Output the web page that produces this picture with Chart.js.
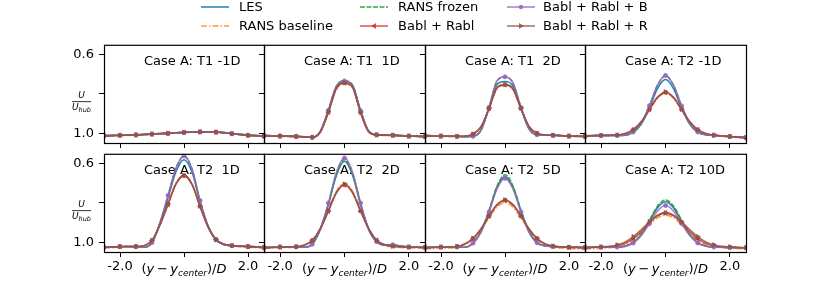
<!DOCTYPE html>
<html>
<head>
<meta charset="utf-8">
<script src="https://cdn.jsdelivr.net/npm/chart.js@4.4.0/dist/chart.umd.min.js"></script>
<style>
  html, body { margin: 0; padding: 0; background: #fff; }
  #fig { position: relative; width: 830px; height: 283px; overflow: hidden; font-family: 'DejaVu Sans', sans-serif; }
  #fig canvas { position: absolute; }
  .leg { position: absolute; height: 16px; font-size: 13px; line-height: 16px; white-space: nowrap; color: #000; }
  .leg svg { position: absolute; left: 0; top: 0; }
  .leg span { position: absolute; top: 0; }
</style>
</head>
<body>
<div id="fig"></div>
<script>
// ---------- data ----------
const xs = [-2.5, -2.25, -2, -1.75, -1.5, -1.25, -1, -0.75, -0.5, -0.25, 0, 0.25, 0.5, 0.75, 1, 1.25, 1.5, 1.75, 2, 2.25, 2.5];
const xTicks = [-2, 0, 2];
const xTickLabels = ['-2.0', '', '2.0'];
const yTicks = [0.6, 0.8, 1.0];
const yTickLabels = ['0.6', '', '1.0'];
const seriesNames = ['LES', 'RANS baseline', 'RANS frozen', 'Babl + Rabl', 'Babl + Rabl + B', 'Babl + Rabl + R'];
const panelTitles = ['Case A: T1 -1D', 'Case A: T1  1D', 'Case A: T1  2D', 'Case A: T2 -1D',
                     'Case A: T2  1D', 'Case A: T2  2D', 'Case A: T2  5D', 'Case A: T2 10D'];

// T1 -1D
const t1m1_les    = [1.012,1.011,1.010,1.009,1.008,1.006,1.004,1.002,1.000,0.998,0.996,0.994,0.993,0.993,0.994,0.997,1.002,1.006,1.010,1.012,1.013];
const t1m1_base   = [1.016,1.015,1.013,1.011,1.010,1.008,1.006,1.003,1.001,0.999,0.997,0.995,0.994,0.994,0.995,0.998,1.003,1.008,1.012,1.015,1.017];
const t1m1_frozen = [1.012,1.011,1.010,1.009,1.008,1.006,1.004,1.002,1.000,0.998,0.996,0.995,0.994,0.993,0.994,0.997,1.002,1.006,1.010,1.012,1.014];
const t1m1_rabl   = [1.014,1.013,1.011,1.010,1.009,1.007,1.005,1.003,1.001,0.998,0.996,0.994,0.993,0.993,0.995,0.998,1.003,1.007,1.011,1.013,1.015];
const t1m1_b      = [1.012,1.011,1.010,1.009,1.008,1.006,1.004,1.002,1.000,0.998,0.996,0.994,0.993,0.993,0.994,0.997,1.002,1.006,1.010,1.012,1.014];
const t1m1_r      = [1.014,1.013,1.011,1.010,1.009,1.007,1.005,1.003,1.001,0.999,0.996,0.995,0.994,0.994,0.995,0.998,1.003,1.007,1.011,1.013,1.015];

// T1 1D
const t1p1_les    = [1.012,1.013,1.014,1.015,1.016,1.018,1.021,0.992,0.886,0.763,0.735,0.757,0.888,0.990,1.008,1.009,1.010,1.012,1.014,1.015,1.017];
const t1p1_base   = [1.016,1.016,1.017,1.018,1.019,1.020,1.022,0.995,0.895,0.775,0.748,0.770,0.897,0.994,1.010,1.011,1.012,1.014,1.016,1.018,1.020];
const t1p1_frozen = [1.012,1.013,1.014,1.015,1.016,1.018,1.021,0.990,0.882,0.760,0.733,0.755,0.885,0.989,1.008,1.009,1.010,1.012,1.014,1.015,1.017];
const t1p1_rabl   = [1.013,1.014,1.015,1.016,1.017,1.019,1.021,0.994,0.893,0.772,0.745,0.767,0.895,0.993,1.009,1.010,1.011,1.013,1.015,1.016,1.018];
const t1p1_b      = [1.012,1.013,1.014,1.015,1.016,1.018,1.021,0.991,0.884,0.761,0.734,0.756,0.886,0.989,1.008,1.009,1.010,1.012,1.014,1.015,1.017];
const t1p1_r      = [1.013,1.014,1.015,1.016,1.017,1.019,1.021,0.993,0.891,0.770,0.743,0.765,0.893,0.992,1.009,1.010,1.011,1.013,1.015,1.016,1.018];

// T1 2D
const t1p2_les    = [1.012,1.013,1.014,1.015,1.016,1.018,1.016,0.984,0.873,0.752,0.737,0.760,0.875,0.977,1.008,1.009,1.010,1.012,1.014,1.015,1.016];
const t1p2_base   = [1.017,1.017,1.017,1.018,1.018,1.017,1.007,0.970,0.878,0.772,0.757,0.778,0.878,0.968,1.002,1.010,1.012,1.014,1.016,1.018,1.020];
const t1p2_frozen = [1.012,1.013,1.014,1.015,1.016,1.018,1.016,0.985,0.870,0.735,0.714,0.745,0.870,0.978,1.008,1.009,1.010,1.012,1.014,1.015,1.016];
const t1p2_rabl   = [1.014,1.014,1.015,1.016,1.016,1.015,1.005,0.968,0.875,0.770,0.754,0.775,0.875,0.966,1.001,1.009,1.011,1.013,1.015,1.016,1.017];
const t1p2_b      = [1.012,1.013,1.014,1.015,1.016,1.018,1.016,0.985,0.869,0.734,0.713,0.744,0.869,0.978,1.008,1.009,1.010,1.012,1.014,1.015,1.016];
const t1p2_r      = [1.014,1.014,1.015,1.016,1.016,1.015,1.005,0.967,0.873,0.768,0.752,0.773,0.873,0.965,1.001,1.009,1.011,1.013,1.015,1.016,1.017];

// T2 -1D
const t2m1_les    = [1.014,1.012,1.011,1.011,1.011,1.010,0.995,0.954,0.872,0.773,0.727,0.773,0.872,0.954,0.995,1.008,1.011,1.014,1.017,1.020,1.022];
const t2m1_base   = [1.017,1.015,1.013,1.012,1.011,1.005,0.984,0.943,0.882,0.822,0.795,0.822,0.882,0.943,0.984,1.004,1.012,1.016,1.019,1.023,1.026];
const t2m1_frozen = [1.014,1.012,1.011,1.011,1.011,1.010,0.994,0.950,0.862,0.757,0.708,0.757,0.862,0.950,0.994,1.008,1.011,1.014,1.017,1.020,1.022];
const t2m1_rabl   = [1.015,1.013,1.012,1.011,1.010,1.002,0.982,0.941,0.879,0.819,0.793,0.819,0.879,0.941,0.982,1.002,1.010,1.014,1.017,1.020,1.023];
const t2m1_b      = [1.014,1.012,1.011,1.011,1.011,1.010,0.994,0.949,0.860,0.755,0.706,0.755,0.861,0.949,0.994,1.008,1.011,1.014,1.017,1.020,1.022];
const t2m1_r      = [1.015,1.013,1.012,1.011,1.010,1.002,0.983,0.942,0.878,0.817,0.790,0.817,0.878,0.942,0.983,1.002,1.010,1.014,1.017,1.020,1.023];

// T2 1D
const t2p1_les    = [1.025,1.024,1.022,1.022,1.023,1.026,1.002,0.905,0.775,0.640,0.580,0.643,0.795,0.918,0.988,1.012,1.018,1.020,1.021,1.023,1.026];
const t2p1_base   = [1.030,1.028,1.026,1.025,1.025,1.020,0.990,0.910,0.805,0.700,0.657,0.703,0.815,0.920,0.985,1.010,1.020,1.024,1.026,1.028,1.031];
const t2p1_frozen = [1.025,1.024,1.022,1.022,1.023,1.026,1.003,0.902,0.765,0.624,0.562,0.628,0.790,0.917,0.989,1.012,1.018,1.020,1.021,1.023,1.026];
const t2p1_rabl   = [1.026,1.025,1.023,1.022,1.022,1.018,0.992,0.912,0.808,0.704,0.661,0.707,0.818,0.922,0.987,1.010,1.018,1.021,1.023,1.025,1.027];
const t2p1_b      = [1.025,1.024,1.022,1.022,1.023,1.026,1.002,0.900,0.762,0.622,0.561,0.626,0.788,0.915,0.988,1.012,1.018,1.020,1.021,1.023,1.026];
const t2p1_r      = [1.026,1.025,1.023,1.022,1.022,1.018,0.991,0.910,0.806,0.702,0.660,0.705,0.816,0.921,0.986,1.010,1.018,1.021,1.023,1.025,1.027];

// T2 2D
const t2p2_les    = [1.027,1.026,1.024,1.024,1.024,1.026,1.010,0.935,0.809,0.659,0.588,0.659,0.809,0.935,0.998,1.015,1.014,1.020,1.024,1.026,1.027];
const t2p2_base   = [1.031,1.030,1.028,1.027,1.026,1.018,0.990,0.929,0.835,0.740,0.698,0.740,0.835,0.929,0.990,1.016,1.024,1.027,1.029,1.030,1.031];
const t2p2_frozen = [1.027,1.026,1.024,1.024,1.024,1.026,1.010,0.934,0.805,0.652,0.580,0.652,0.805,0.934,0.998,1.015,1.014,1.020,1.024,1.026,1.027];
const t2p2_rabl   = [1.028,1.027,1.025,1.024,1.023,1.015,0.990,0.932,0.842,0.749,0.709,0.749,0.842,0.932,0.990,1.013,1.020,1.023,1.025,1.026,1.027];
const t2p2_b      = [1.027,1.026,1.024,1.024,1.024,1.026,1.010,0.932,0.801,0.644,0.571,0.644,0.801,0.932,0.997,1.015,1.013,1.020,1.024,1.026,1.027];
const t2p2_r      = [1.028,1.027,1.025,1.024,1.023,1.015,0.993,0.930,0.840,0.746,0.705,0.746,0.840,0.930,0.993,1.013,1.020,1.023,1.025,1.026,1.027];

// T2 5D
const t2p5_les    = [1.027,1.026,1.025,1.025,1.025,1.026,1.004,0.947,0.842,0.721,0.665,0.721,0.842,0.947,1.003,1.018,1.022,1.024,1.025,1.026,1.027];
const t2p5_base   = [1.034,1.033,1.031,1.030,1.027,1.012,0.984,0.938,0.876,0.821,0.798,0.821,0.876,0.938,0.984,1.012,1.026,1.030,1.032,1.034,1.035];
const t2p5_frozen = [1.027,1.026,1.025,1.025,1.025,1.026,1.003,0.945,0.838,0.714,0.657,0.714,0.838,0.945,1.002,1.018,1.022,1.024,1.025,1.026,1.027];
const t2p5_rabl   = [1.028,1.027,1.025,1.024,1.022,1.010,0.983,0.934,0.868,0.811,0.787,0.811,0.868,0.934,0.983,1.010,1.021,1.024,1.026,1.027,1.028];
const t2p5_b      = [1.027,1.026,1.025,1.025,1.025,1.026,1.005,0.949,0.847,0.729,0.675,0.729,0.847,0.949,1.003,1.018,1.022,1.024,1.025,1.026,1.027];
const t2p5_r      = [1.028,1.027,1.025,1.024,1.022,1.008,0.980,0.931,0.866,0.809,0.785,0.809,0.866,0.931,0.980,1.008,1.020,1.024,1.026,1.027,1.028];

// T2 10D
const t2p10_les    = [1.027,1.026,1.025,1.025,1.025,1.020,1.002,0.961,0.894,0.825,0.794,0.825,0.894,0.961,1.002,1.019,1.025,1.026,1.027,1.028,1.029];
const t2p10_base   = [1.034,1.033,1.032,1.028,1.023,1.011,0.988,0.953,0.911,0.876,0.862,0.876,0.911,0.953,0.988,1.011,1.023,1.028,1.031,1.033,1.035];
const t2p10_frozen = [1.027,1.026,1.025,1.025,1.025,1.020,1.001,0.959,0.889,0.817,0.785,0.817,0.889,0.959,1.001,1.019,1.025,1.026,1.027,1.028,1.029];
const t2p10_rabl   = [1.028,1.027,1.025,1.024,1.018,1.006,0.982,0.946,0.902,0.866,0.851,0.866,0.902,0.946,0.982,1.006,1.018,1.024,1.026,1.027,1.028];
const t2p10_b      = [1.027,1.026,1.025,1.025,1.025,1.020,1.004,0.966,0.905,0.841,0.813,0.841,0.905,0.966,1.004,1.020,1.025,1.026,1.027,1.028,1.029];
const t2p10_r      = [1.028,1.026,1.024,1.021,1.014,0.999,0.972,0.936,0.896,0.863,0.851,0.863,0.896,0.936,0.972,0.999,1.014,1.021,1.024,1.026,1.028];

const panelSeries = [
  [t1m1_les, t1m1_base, t1m1_frozen, t1m1_rabl, t1m1_b, t1m1_r],
  [t1p1_les, t1p1_base, t1p1_frozen, t1p1_rabl, t1p1_b, t1p1_r],
  [t1p2_les, t1p2_base, t1p2_frozen, t1p2_rabl, t1p2_b, t1p2_r],
  [t2m1_les, t2m1_base, t2m1_frozen, t2m1_rabl, t2m1_b, t2m1_r],
  [t2p1_les, t2p1_base, t2p1_frozen, t2p1_rabl, t2p1_b, t2p1_r],
  [t2p2_les, t2p2_base, t2p2_frozen, t2p2_rabl, t2p2_b, t2p2_r],
  [t2p5_les, t2p5_base, t2p5_frozen, t2p5_rabl, t2p5_b, t2p5_r],
  [t2p10_les, t2p10_base, t2p10_frozen, t2p10_rabl, t2p10_b, t2p10_r]
];

// ---------- styles ----------
const colors = ['rgba(31,119,180,0.95)', 'rgba(255,127,14,0.8)', 'rgba(44,160,44,0.95)',
                'rgba(214,39,40,0.8)', 'rgba(148,103,189,0.85)', 'rgba(140,86,75,0.85)'];
const dashes = [[], [6, 2, 1.5, 2], [5, 1.5], [], [], []];
const markers = [null, null, null, {style: 'triangle', rot: -90, r: 2.6}, {style: 'circle', rot: 0, r: 2}, {style: 'triangle', rot: 90, r: 2.6}];

const FONT = "'DejaVu Sans', sans-serif";
Chart.defaults.font.family = FONT;
Chart.defaults.color = '#000';

const colEdges = [104, 264, 425, 585, 746];
const rowEdges = [34, 143, 252];
const ML = 45, MR = 2, MT = 2, MB = 32;
const fig = document.getElementById('fig');

// ---------- panels ----------
function drawYLabel(ctx, cx, cy) {
  ctx.save();
  ctx.fillStyle = '#000';
  ctx.textAlign = 'center';
  ctx.textBaseline = 'middle';
  ctx.font = 'italic 9px ' + FONT;
  ctx.fillText('U', cx, cy - 6.5);
  ctx.fillRect(cx - 9.5, cy - 0.5, 19, 0.8);
  const wU = ctx.measureText('U').width;
  ctx.font = 'italic 6.5px ' + FONT;
  const wS = ctx.measureText('hub').width;
  const x0 = cx - (wU + wS) / 2;
  ctx.textAlign = 'left';
  ctx.font = 'italic 9px ' + FONT;
  ctx.fillText('U', x0, cy + 6);
  ctx.font = 'italic 6.5px ' + FONT;
  ctx.fillText('hub', x0 + wU, cy + 8.5);
  ctx.restore();
}

function drawXLabel(ctx, cx, by) {
  const parts = [
    ['(', '13px ', 0], ['y', 'italic 13px ', 0], ['\u2009\u2212\u2009', '13px ', 0], ['y', 'italic 13px ', 0],
    ['center', 'italic 9px ', 3], [')/', '13px ', 0], ['D', 'italic 13px ', 0]
  ];
  ctx.save();
  ctx.fillStyle = '#000';
  ctx.textBaseline = 'alphabetic';
  ctx.textAlign = 'left';
  let total = 0;
  parts.forEach(p => { ctx.font = p[1] + FONT; total += ctx.measureText(p[0]).width; });
  let x = cx - total / 2;
  parts.forEach(p => {
    ctx.font = p[1] + FONT;
    ctx.fillText(p[0], x, by + p[2]);
    x += ctx.measureText(p[0]).width;
  });
  ctx.restore();
}

function makePanel(idx) {
  const col = idx % 4, row = Math.floor(idx / 4);
  const left = colEdges[col], right = colEdges[col + 1];
  const top = rowEdges[row], bottom = rowEdges[row + 1];
  const w = right - left + ML + MR, h = bottom - top + MT + MB;
  const cv = document.createElement('canvas');
  cv.width = w; cv.height = h;
  cv.style.left = (left - ML) + 'px';
  cv.style.top = (top - MT) + 'px';
  cv.style.width = w + 'px';
  cv.style.height = h + 'px';
  fig.appendChild(cv);

  const datasets = panelSeries[idx].map((vals, s) => ({
    label: seriesNames[s],
    data: xs.map((x, k) => ({x: x, y: vals[k]})),
    borderColor: colors[s],
    backgroundColor: colors[s],
    borderWidth: 1.6,
    borderDash: dashes[s],
    pointStyle: markers[s] ? markers[s].style : 'circle',
    rotation: markers[s] ? markers[s].rot : 0,
    pointRadius: c => (markers[s] && c.dataIndex % 2 === 0) ? markers[s].r : 0,
    pointBorderWidth: 1,
    cubicInterpolationMode: 'monotone',
    order: 5 - s
  }));

  const framePlugin = {
    id: 'frame' + idx,
    beforeDatasetsDraw(chart) {
      const a = chart.chartArea, ctx = chart.ctx;
      ctx.save();
      ctx.fillStyle = '#000';
      ctx.font = '13px ' + FONT;
      ctx.textAlign = 'left';
      ctx.textBaseline = 'middle';
      ctx.fillText(panelTitles[idx], a.left + 40, a.top + 17);
      ctx.restore();
    },
    afterDraw(chart) {
      const a = chart.chartArea, ctx = chart.ctx;
      ctx.save();
      ctx.strokeStyle = '#000';
      ctx.lineWidth = 1.2;
      ctx.strokeRect(a.left + 0.5, a.top + 0.5, a.right - a.left, a.bottom - a.top);
      ctx.restore();
      if (col === 0) drawYLabel(ctx, 22.5, a.top + 57);
      if (row === 1) drawXLabel(ctx, (a.left + a.right) / 2, a.bottom + 20.5);
    }
  };

  new Chart(cv, {
    type: 'line',
    data: {datasets: datasets},
    options: {
      responsive: false,
      devicePixelRatio: 1,
      animation: false,
      events: [],
      layout: {autoPadding: false, padding: {top: MT, right: MR, left: 0, bottom: 0}},
      plugins: {legend: {display: false}, tooltip: {enabled: false}},
      scales: {
        x: {
          type: 'linear', min: -2.5, max: 2.5,
          afterBuildTicks: sc => { sc.ticks = xTicks.map(v => ({value: v})); },
          afterFit: sc => { sc.height = MB; },
          ticks: {
            callback: (v, i) => row === 1 ? xTickLabels[i] : '',
            font: {size: 13}, padding: 2, maxRotation: 0, autoSkip: false
          },
          grid: {display: true, drawOnChartArea: false, drawTicks: true, tickLength: 5, color: '#000', lineWidth: 1},
          border: {display: false}
        },
        y: {
          type: 'linear', reverse: true, min: 0.55, max: 1.05,
          afterBuildTicks: sc => { sc.ticks = yTicks.map(v => ({value: v})); },
          afterFit: sc => { sc.width = ML; },
          ticks: {
            callback: (v, i) => col === 0 ? yTickLabels[i] : '',
            font: {size: 13}, padding: 5, autoSkip: false
          },
          grid: {display: true, drawOnChartArea: false, drawTicks: true, tickLength: 5, color: '#000', lineWidth: 1},
          border: {display: false}
        }
      }
    },
    plugins: [framePlugin]
  });
}

for (let i = 0; i < 8; i++) makePanel(i);

// ---------- legend ----------
const legendPos = [
  {line: 201, text: 239, y: 7}, {line: 201, text: 239, y: 25.5},
  {line: 360, text: 398, y: 7}, {line: 360, text: 398, y: 25.5},
  {line: 507, text: 543, y: 7}, {line: 507, text: 543, y: 25.5}
];
seriesNames.forEach((name, s) => {
  const p = legendPos[s];
  const d = document.createElement('div');
  d.className = 'leg';
  d.style.left = p.line + 'px';
  d.style.top = (p.y - 8) + 'px';
  const c = colors[s];
  const dash = dashes[s].length ? ` stroke-dasharray="${dashes[s].join(' ')}"` : '';
  let mk = '';
  if (s === 3) mk = `<polygon points="11,8 16,5 16,11" fill="${c}"/>`;
  if (s === 4) mk = `<circle cx="14" cy="8" r="2.2" fill="${c}"/>`;
  if (s === 5) mk = `<polygon points="17,8 12,5 12,11" fill="${c}"/>`;
  d.innerHTML = `<svg width="28" height="16"><line x1="0" y1="8" x2="28" y2="8" stroke="${c}" stroke-width="1.5"${dash}/>${mk}</svg>` +
                `<span style="left:${p.text - p.line}px">${name}</span>`;
  fig.appendChild(d);
});
</script>
</body>
</html>
